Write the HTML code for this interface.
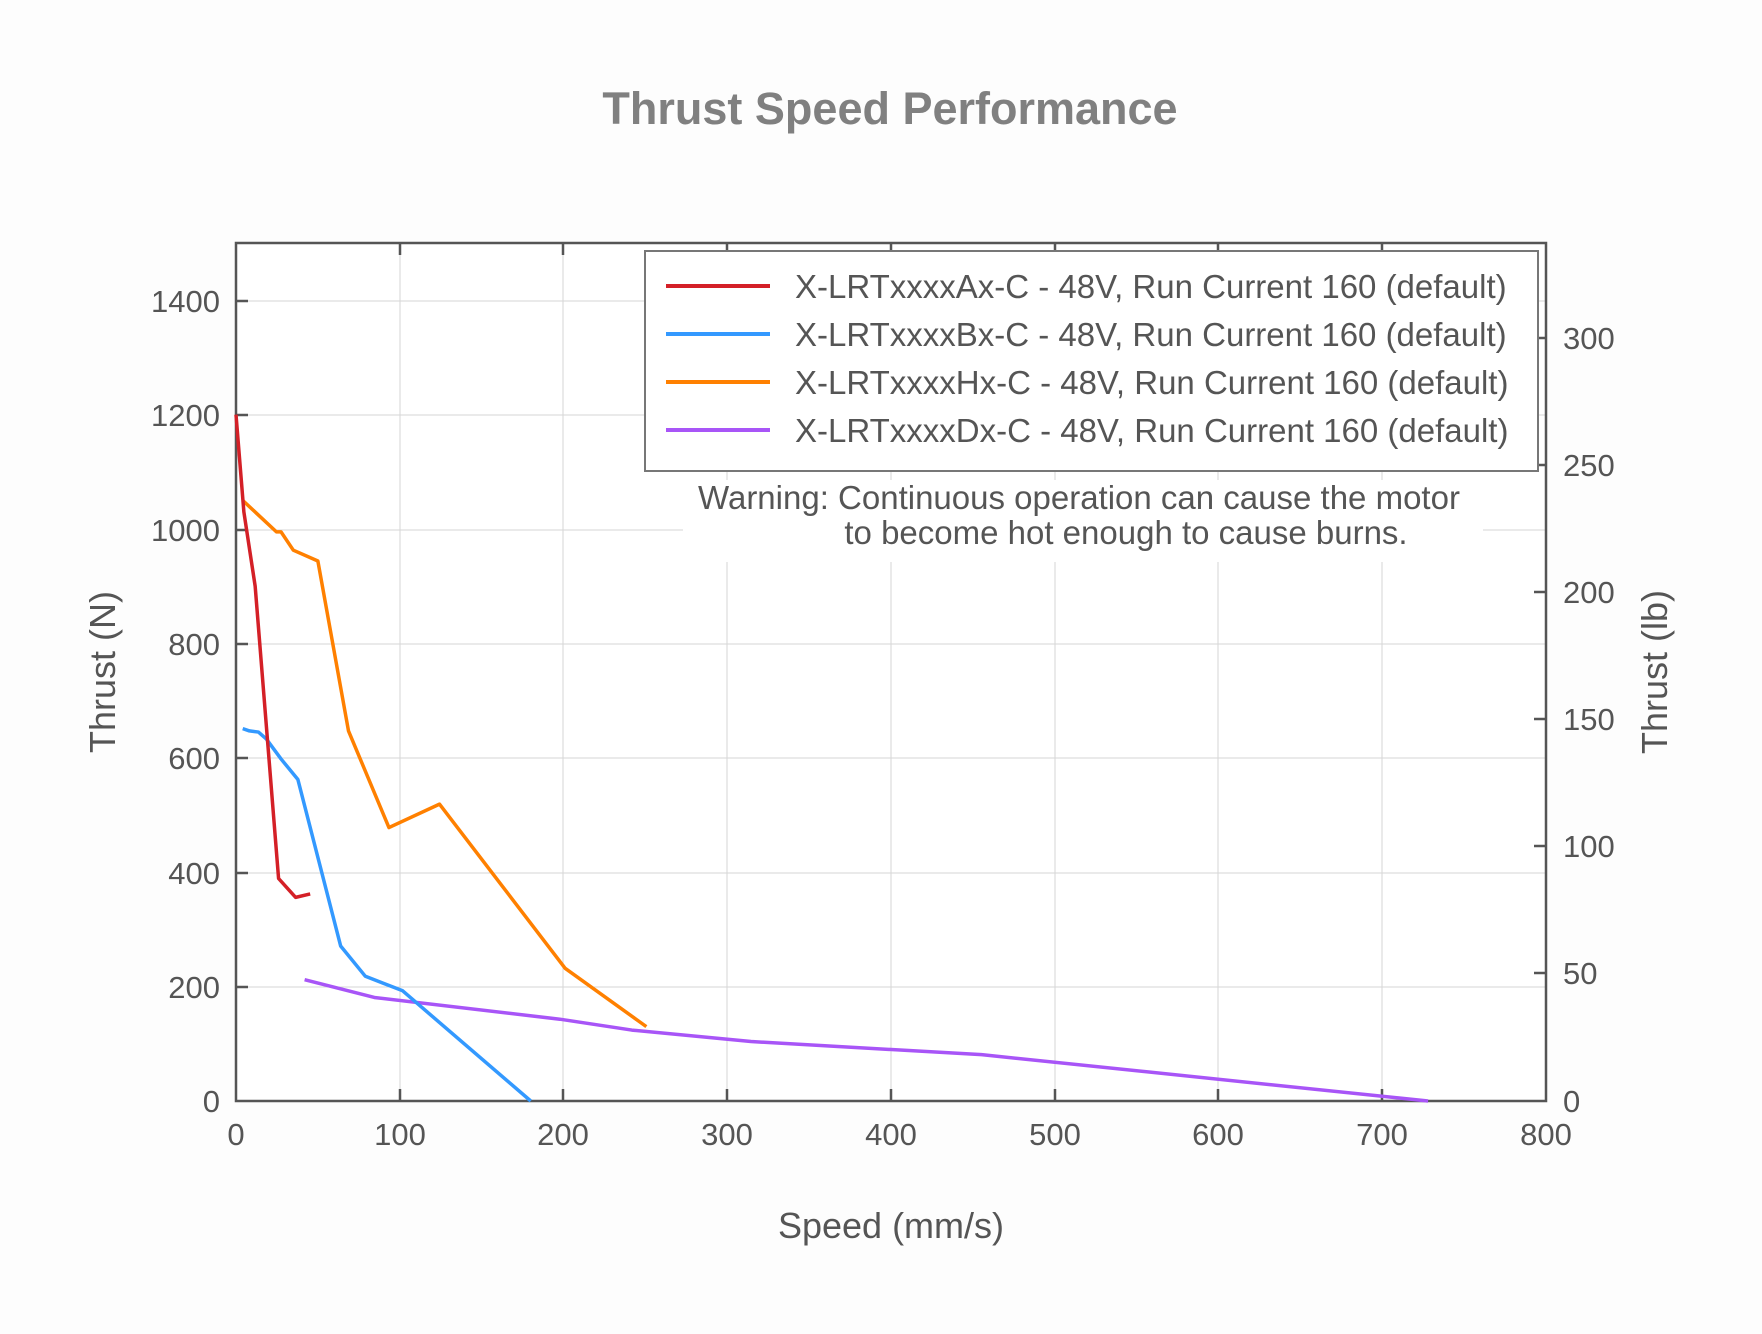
<!DOCTYPE html>
<html><head><meta charset="utf-8"><style>
html,body{margin:0;padding:0;background:#fdfdfd;}
svg{display:block;font-family:"Liberation Sans",Arial,sans-serif;}
</style></head><body>
<svg width="1762" height="1334" viewBox="0 0 1762 1334" xmlns="http://www.w3.org/2000/svg">
<rect width="1762" height="1334" fill="#fdfdfd"/>
<text x="890" y="124" text-anchor="middle" font-size="45" font-weight="bold" fill="#808080">Thrust Speed Performance</text>
<rect x="236" y="243" width="1310" height="858" fill="#ffffff"/>
<g stroke="#d6d6d6" stroke-width="1">
<line x1="400" y1="243" x2="400" y2="1101"/><line x1="563" y1="243" x2="563" y2="1101"/>
<line x1="727" y1="243" x2="727" y2="1101"/><line x1="891" y1="243" x2="891" y2="1101"/>
<line x1="1055" y1="243" x2="1055" y2="1101"/><line x1="1218" y1="243" x2="1218" y2="1101"/>
<line x1="1382" y1="243" x2="1382" y2="1101"/>
<line x1="236" y1="987" x2="1546" y2="987"/><line x1="236" y1="873" x2="1546" y2="873"/>
<line x1="236" y1="758" x2="1546" y2="758"/><line x1="236" y1="644" x2="1546" y2="644"/>
<line x1="236" y1="530" x2="1546" y2="530"/><line x1="236" y1="415" x2="1546" y2="415"/>
<line x1="236" y1="301" x2="1546" y2="301"/>
</g>
<rect x="683" y="480" width="800" height="82" fill="#ffffff"/>
<g stroke="#555" stroke-width="2.5">
<rect x="236" y="243" width="1310" height="858" fill="none"/>
<path d="M400 1101v-12M563 1101v-12M727 1101v-12M891 1101v-12M1055 1101v-12M1218 1101v-12M1382 1101v-12
M400 243v12M563 243v12M727 243v12M891 243v12M1055 243v12M1218 243v12M1382 243v12
M236 987h12M236 873h12M236 758h12M236 644h12M236 530h12M236 415h12M236 301h12
M1546 973h-12M1546 846h-12M1546 719h-12M1546 592h-12M1546 465h-12M1546 338h-12"/>
</g>
<g font-size="31" fill="#555" text-anchor="end">
<text x="220" y="1112">0</text><text x="220" y="998">200</text><text x="220" y="884">400</text>
<text x="220" y="769">600</text><text x="220" y="655">800</text><text x="220" y="541">1000</text>
<text x="220" y="426">1200</text><text x="220" y="312">1400</text>
</g>
<g font-size="31" fill="#555" text-anchor="start">
<text x="1563" y="1112">0</text><text x="1563" y="984">50</text><text x="1563" y="857">100</text>
<text x="1563" y="730">150</text><text x="1563" y="603">200</text><text x="1563" y="476">250</text>
<text x="1563" y="349">300</text>
</g>
<g font-size="31" fill="#555" text-anchor="middle">
<text x="236" y="1145">0</text><text x="400" y="1145">100</text><text x="563" y="1145">200</text>
<text x="727" y="1145">300</text><text x="891" y="1145">400</text><text x="1055" y="1145">500</text>
<text x="1218" y="1145">600</text><text x="1382" y="1145">700</text><text x="1546" y="1145">800</text>
</g>
<text x="891" y="1238" text-anchor="middle" font-size="36" fill="#555">Speed (mm/s)</text>
<text transform="translate(115,672) rotate(-90)" text-anchor="middle" font-size="36" fill="#555">Thrust (N)</text>
<text transform="translate(1667,672) rotate(-90)" text-anchor="middle" font-size="36" fill="#555">Thrust (lb)</text>
<g transform="translate(236,1101) scale(1.6375,-0.572)" fill="none" stroke-width="3.5" stroke-linejoin="round">
<polyline vector-effect="non-scaling-stroke" stroke="#a855f7" points="41.9,212 84.5,181 197.8,143 241.7,124 314.5,104 455.3,81 728,0"/>
<polyline vector-effect="non-scaling-stroke" stroke="#ff8000" points="4.1,1050 24.7,995 27.5,995 35,963 50,944 68.7,647 93.4,478 124.3,519 201,232 250.6,130"/>
<polyline vector-effect="non-scaling-stroke" stroke="#3399ff" points="4.1,651 8.2,647 13.7,645 18.5,633 27.5,598 37.8,562 63.9,271 79,218 101.6,193 180,0"/>
<polyline vector-effect="non-scaling-stroke" stroke="#d42027" points="0,1200 4.8,1030 11.7,900 26,389 36.4,356 45.3,362"/>
</g>
<rect x="645" y="251" width="893" height="220" fill="#ffffff" stroke="#777" stroke-width="2"/>
<g stroke-width="4">
<line x1="666" y1="286" x2="770" y2="286" stroke="#d42027"/>
<line x1="666" y1="334" x2="770" y2="334" stroke="#3399ff"/>
<line x1="666" y1="382" x2="770" y2="382" stroke="#ff8000"/>
<line x1="666" y1="430" x2="770" y2="430" stroke="#a855f7"/>
</g>
<g font-size="33" fill="#555">
<text x="795" y="298">X-LRTxxxxAx-C - 48V, Run Current 160 (default)</text>
<text x="795" y="346">X-LRTxxxxBx-C - 48V, Run Current 160 (default)</text>
<text x="795" y="394">X-LRTxxxxHx-C - 48V, Run Current 160 (default)</text>
<text x="795" y="442">X-LRTxxxxDx-C - 48V, Run Current 160 (default)</text>
</g>
<g font-size="33" fill="#555" text-anchor="middle">
<text x="1079" y="509">Warning: Continuous operation can cause the motor</text>
<text x="1126" y="544">to become hot enough to cause burns.</text>
</g>
</svg>
</body></html>
